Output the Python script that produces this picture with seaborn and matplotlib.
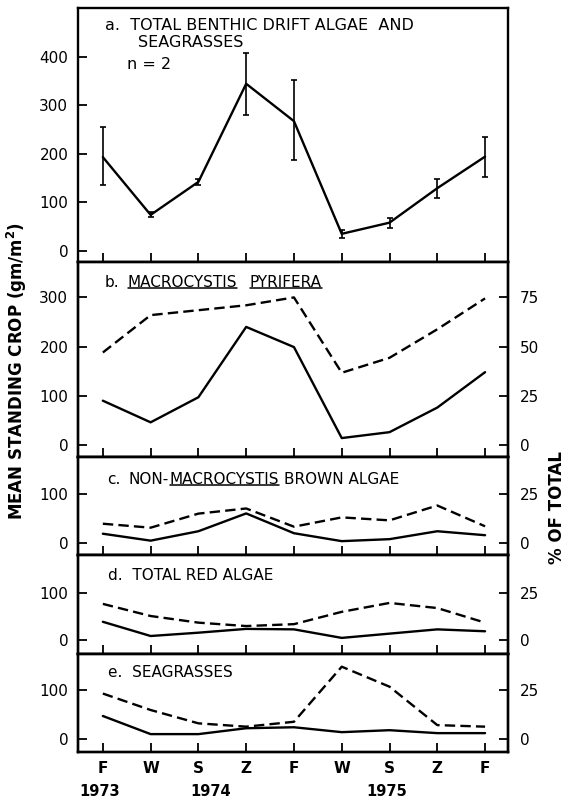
import matplotlib
matplotlib.use("Agg")
import numpy as np
import pandas as pd
import matplotlib.pyplot as plt
import matplotlib.transforms as mtransforms
from matplotlib.lines import Line2D
from matplotlib.text import Annotation
import seaborn as sns

# ---- data -------------------------------------------------------------
seasons = ["F", "W", "S", "Z", "F", "W", "S", "Z", "F"]
year_labels = ["1973", "1974", "1975"]
year_x = [-0.06, 2.26, 5.95]          # where each year label is centred on the season axis

# a. total benthic drift algae and seagrasses, mean and range (n = 2), g/m^2
total_mean = [193, 74, 142, 344, 267, 35, 58, 129, 194]
total_low = [135, 69, 135, 280, 187, 27, 47, 109, 153]
total_high = [255, 79, 147, 408, 352, 42, 68, 148, 234]

# b.-e. mean standing crop (g/m^2, solid) and percent of total (dashed)
macro_crop = [90, 46, 97, 240, 199, 14, 26, 76, 148]
macro_pct = [47, 66, 68.5, 71, 75, 36.7, 44.3, 58.8, 74.5]
brown_crop = [19, 5, 24, 60, 20, 4, 8, 24, 16]
brown_pct = [9.8, 7.8, 14.9, 17.5, 8.3, 13.0, 11.5, 19.0, 8.5]
red_crop = [39, 9, 16, 24, 23, 5, 14, 23, 19]
red_pct = [19.2, 12.8, 9.3, 7.5, 8.5, 15.0, 19.7, 17.0, 9.3]
grass_crop = [47, 10, 10, 22, 24, 14, 18, 12, 12]
grass_pct = [23.2, 14.8, 8.0, 6.3, 8.8, 36.9, 26.7, 7.1, 6.3]

t = np.arange(len(seasons))
df = pd.DataFrame({
    "t": t,
    "total": total_mean,
    "macro_crop": macro_crop, "macro_pct": macro_pct,
    "brown_crop": brown_crop, "brown_pct": brown_pct,
    "red_crop": red_crop, "red_pct": red_pct,
    "grass_crop": grass_crop, "grass_pct": grass_pct,
})

# ---- style ------------------------------------------------------------
sns.set_theme(style="ticks")
plt.rcParams.update({
    "font.family": ["DejaVu Sans"],
    "axes.edgecolor": "black",
    "axes.linewidth": 1.7,
    "xtick.color": "black", "ytick.color": "black",
    "text.color": "black",
    "xtick.direction": "in", "ytick.direction": "in",
    "xtick.major.size": 6.5, "ytick.major.size": 6.5,
    "xtick.major.width": 1.3, "ytick.major.width": 1.3,
    "xtick.labelsize": 11, "ytick.labelsize": 11,
})

W, H = 566, 799
fig = plt.figure(figsize=(W / 100, H / 100), dpi=100)
fig.patch.set_facecolor("white")

LEFT, RIGHT = 78, 508
EDGES = [8, 262, 457, 555, 654, 752]
LW = 1.7
DASH = (0, (4.4, 2.2))


def fx(px):
    return px / W


def fy(py):
    return 1 - py / H


panels = [
    dict(crop="total", pct=None, ylim=(-23, 500), yticks=[0, 100, 200, 300, 400], pticks=None),
    dict(crop="macro_crop", pct="macro_pct", ylim=(-24.5, 372), yticks=[0, 100, 200, 300], pticks=[0, 25, 50, 75]),
    dict(crop="brown_crop", pct="brown_pct", ylim=(-24, 174), yticks=[0, 100], pticks=[0, 25]),
    dict(crop="red_crop", pct="red_pct", ylim=(-29, 180), yticks=[0, 100], pticks=[0, 25]),
    dict(crop="grass_crop", pct="grass_pct", ylim=(-26.5, 173.5), yticks=[0, 100], pticks=[0, 25]),
]

axes = []
for i, p in enumerate(panels):
    top, bot = EDGES[i], EDGES[i + 1]
    ax = fig.add_axes([fx(LEFT), fy(bot), fx(RIGHT - LEFT), (bot - top) / H])
    ax.set_facecolor("white")
    sns.lineplot(data=df, x="t", y=p["crop"], ax=ax, color="black", lw=LW,
                 errorbar=None)
    ax.set_xlim(-0.52, 8.48)
    ax.set_ylim(*p["ylim"])
    ax.set_xticks(t)
    ax.set_yticks(p["yticks"])
    ax.set_xlabel("")
    ax.set_ylabel("")
    ax.tick_params(axis="y", pad=7)
    ax.tick_params(axis="x", pad=6.5)
    for s in ax.spines.values():
        s.set_visible(True)
        s.set_linewidth(1.7)
    if i < len(panels) - 1:
        ax.tick_params(axis="x", labelbottom=False)
    else:
        ax.set_xticklabels(seasons, fontweight="bold", fontsize=11)

    if p["pct"] is not None:
        axr = ax.twinx()
        sns.lineplot(data=df, x="t", y=p["pct"], ax=axr, color="black", lw=LW,
                     linestyle=DASH, errorbar=None)
        axr.set_ylim(p["ylim"][0] / 4, p["ylim"][1] / 4)
        axr.set_yticks(p["pticks"])
        axr.set_ylabel("")
        axr.tick_params(axis="y", direction="in", length=6.5, width=1.3, pad=8.5,
                        labelsize=11)
        axr.set_xlim(-0.52, 8.48)
    axes.append(ax)

# panel a error bars (range of the two samples)
mean = np.array(total_mean)
axes[0].errorbar(t, mean, yerr=[mean - np.array(total_low), np.array(total_high) - mean],
                 fmt="none", ecolor="black", elinewidth=1.2, capsize=2.5, capthick=1.2)

# ---- panel titles -------------------------------------------------------
TS = 11


def title_row(x_px, base_px, parts):
    """Lay out text pieces on one baseline; returns the pieces to underline."""
    under = []
    prev = None
    for text, underline, gap in parts:
        if prev is None:
            art = fig.text(fx(x_px), fy(base_px), text, fontsize=TS,
                           ha="left", va="baseline")
        else:
            art = Annotation(text, xy=(1, 0), xycoords=prev,
                             xytext=(gap, 0), textcoords="offset points",
                             ha="left", va="bottom", fontsize=TS)
            fig.add_artist(art)
        if underline:
            under.append(art)
        prev = art
    return under


fig.text(fx(105), fy(30), "a.  TOTAL BENTHIC DRIFT ALGAE  AND", fontsize=11.5,
         ha="left", va="baseline")
fig.text(fx(138), fy(47), "SEAGRASSES", fontsize=11.5, ha="left", va="baseline")
fig.text(fx(127), fy(69), "n = 2", fontsize=11.5, ha="left", va="baseline")

to_underline = []
to_underline += title_row(105, 287, [("b.", False, 0), ("MACROCYSTIS", True, 5.8),
                                     ("PYRIFERA", True, 9.0)])
to_underline += title_row(107, 484, [("c.", False, 0), ("NON-", False, 5.8),
                                     ("MACROCYSTIS", True, 0.8),
                                     ("BROWN ALGAE", False, 3.6)])
fig.text(fx(108), fy(580), "d.  TOTAL RED ALGAE", fontsize=TS, ha="left", va="baseline")
fig.text(fx(108), fy(677), "e.  SEAGRASSES", fontsize=TS, ha="left", va="baseline")

# ---- axis labels ----------------------------------------------------------
fig.text(fx(17), fy(371), "MEAN STANDING CROP (gm/m$^{\\mathbf{2}}$)", rotation=90,
         ha="center", va="center", fontsize=12, fontweight="bold")
fig.text(fx(557), fy(508), "% OF TOTAL", rotation=90, ha="center", va="center",
         fontsize=12, fontweight="bold")

year_tr = mtransforms.blended_transform_factory(axes[-1].transData, fig.transFigure)
for yr, xpos in zip(year_labels, year_x):
    axes[-1].text(xpos, fy(792), yr, transform=year_tr, ha="center", va="center",
                  fontsize=10.5, fontweight="bold")

# underline the genus names
fig.canvas.draw()
renderer = fig.canvas.get_renderer()
for art in to_underline:
    bb = art.get_window_extent(renderer)
    y = (bb.y0 + 1.6) / H
    fig.add_artist(Line2D([bb.x0 / W, bb.x1 / W], [y, y], transform=fig.transFigure,
                          color="black", lw=1.1))

fig.savefig("out.png", dpi=100, facecolor="white")
